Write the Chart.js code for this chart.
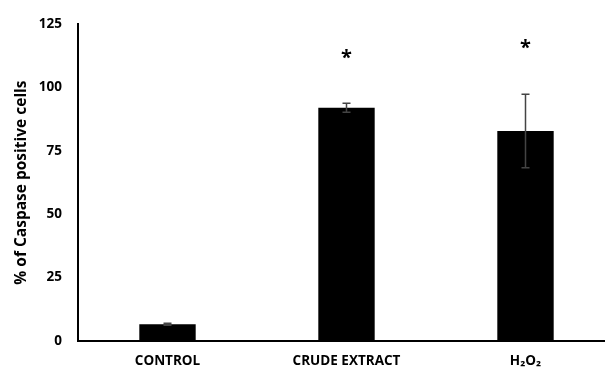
<!DOCTYPE html>
<html><head><meta charset="utf-8">
<script src="https://cdn.jsdelivr.net/npm/chart.js@4/dist/chart.umd.min.js"></script>
<style>
html,body{margin:0;padding:0;background:#fff;overflow:hidden;}
#wrap{width:605px;height:372px;overflow:hidden;position:relative;}
#c{position:absolute;left:0;top:0;}
</style></head><body>
<div id="wrap"><canvas id="c" width="620" height="372"></canvas></div>
<script>
const categories = ["CONTROL", "CRUDE EXTRACT", "H\u2082O\u2082"];
const values = [6.6, 92.0, 82.8];
const errors = [0.4, 1.8, 14.5];
const significance = ["", "*", "*"];
const starValues = [null, 112.5, 116.8];
const yTicks = [0, 25, 50, 75, 100, 125];

const FONT = "'Open Sans', 'DejaVu Sans', sans-serif";

const errPlugin = {
  id: 'errbars',
  afterDatasetsDraw(chart) {
    const ctx = chart.ctx, x = chart.scales.x, y = chart.scales.y;
    ctx.save();
    ctx.strokeStyle = '#444';
    ctx.lineWidth = 1.5;
    values.forEach((v, i) => {
      const cx = x.getPixelForValue(i);
      const yt = y.getPixelForValue(v + errors[i]);
      const yb = y.getPixelForValue(v - errors[i]);
      ctx.beginPath();
      ctx.moveTo(cx, yt); ctx.lineTo(cx, yb);
      ctx.moveTo(cx - 4, yt); ctx.lineTo(cx + 4, yt);
      ctx.moveTo(cx - 4, yb); ctx.lineTo(cx + 4, yb);
      ctx.stroke();
    });
    ctx.fillStyle = '#000';
    ctx.font = "bold 20px " + FONT;
    ctx.textAlign = 'center';
    ctx.textBaseline = 'middle';
    significance.forEach((s, i) => {
      if (!s) return;
      ctx.fillText(s, x.getPixelForValue(i), y.getPixelForValue(starValues[i]) + 3);
    });
    ctx.restore();
  }
};

new Chart(document.getElementById('c'), {
  type: 'bar',
  data: {
    labels: categories,
    datasets: [{
      data: values,
      backgroundColor: '#000',
      borderWidth: 0,
      barPercentage: 0.315,
      categoryPercentage: 1.0
    }]
  },
  options: {
    responsive: false,
    animation: false,
    devicePixelRatio: 1,
    layout: { padding: { top: 16, right: 5, left: 2, bottom: 0 } },
    plugins: { legend: { display: false }, tooltip: { enabled: false } },
    scales: {
      x: {
        grid: { display: false, drawTicks: false },
        border: { display: true, color: '#000', width: 2 },
        ticks: { color: '#000', font: { family: FONT, size: 13.5, weight: 'bold' }, padding: 12, maxRotation: 0, autoSkip: false },
        afterFit(s) { s.height = 31; }
      },
      y: {
        min: 0, max: 125,
        afterBuildTicks(s) { s.ticks = yTicks.map(v => ({ value: v })); },
        grid: { display: false, drawTicks: false },
        border: { display: true, color: '#000', width: 2 },
        ticks: { color: '#000', font: { family: FONT, size: 13.5, weight: 'bold' }, padding: 16 },
        title: { display: true, text: '% of Caspase positive cells', color: '#000',
                 font: { family: FONT, size: 15.5, weight: 'bold' }, padding: { top: 10, bottom: 0 } },
        afterFit(s) { s.width = 76; }
      }
    }
  },
  plugins: [errPlugin]
});
</script>
</body></html>
